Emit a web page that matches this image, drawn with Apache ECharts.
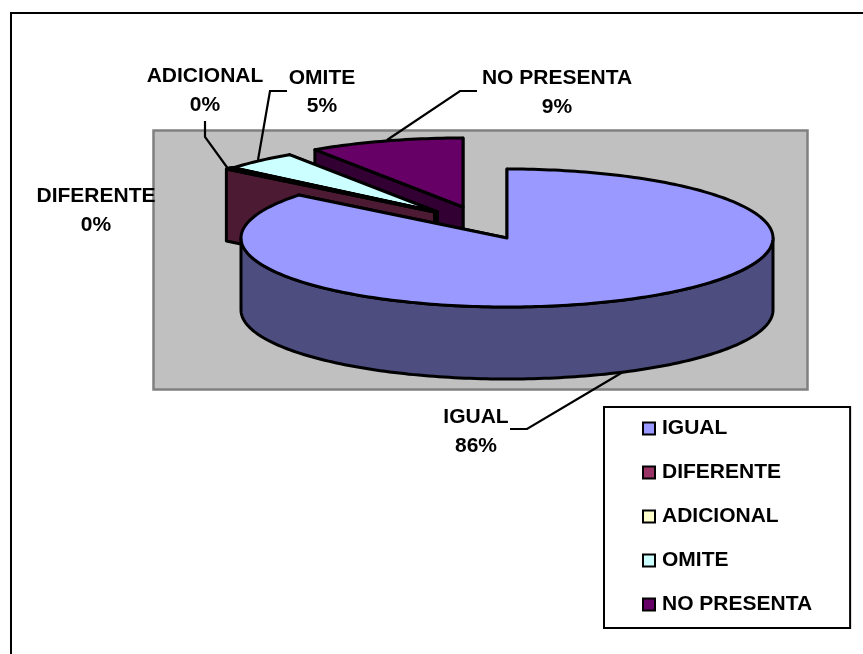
<!DOCTYPE html>
<html>
<head>
<meta charset="utf-8">
<style>html,body{margin:0;padding:0;background:#fff}#chart{width:863px;height:654px}</style>
<script src="https://cdn.jsdelivr.net/npm/echarts@6/dist/echarts.min.js"></script>
</head>
<body>
<div id="chart"></div>
<script>
// Survey answers, as a share of the total
const categories = ['IGUAL', 'DIFERENTE', 'ADICIONAL', 'OMITE', 'NO PRESENTA'];
const shares = [85.7, 0.3, 0.1, 4.5, 9.4];

// Slice colours, top faces and darker side walls
const topColors = ['#9999FF', '#993366', '#FFFFCC', '#CCFFFF', '#660066'];
const wallColors = ['#4D4D80', '#4D1A33', '#808066', '#668080', '#330033'];

// Pie geometry in pixels
const CX = 507, CY = 238, RX = 266, RY = 69, DEPTH = 72;
// Offset of every exploded slice from the pie centre
const explode = [[0, 0], [-72.5, -26], [-71, -26], [-69.5, -26], [-44, -31]];
// Slices are painted from the back of the pie to the front
const paintOrder = [4, 3, 2, 1, 0];

const total = shares.reduce((a, b) => a + b, 0);
const percentText = i => Math.round(Number((shares[i] / total * 100).toFixed(3))) + '%';

// Clockwise angles from twelve o'clock for each slice
const spans = [];
shares.reduce((acc, v, i) => {
  const next = acc + v / total * Math.PI * 2;
  spans[i] = [acc, next];
  return next;
}, 0);

const EDGE = { stroke: '#000', lineWidth: 3, lineJoin: 'round' };

function rim(cx, cy, a) {
  return [cx + RX * Math.sin(a), cy - RY * Math.cos(a)];
}

function arcPoints(cx, cy, a0, a1) {
  const n = Math.max(2, Math.ceil(Math.abs(a1 - a0) / 0.02));
  const pts = [];
  for (let k = 0; k <= n; k++) pts.push(rim(cx, cy, a0 + (a1 - a0) * k / n));
  return pts;
}

function poly(points, fill) {
  return { type: 'polygon', shape: { points }, style: Object.assign({ fill }, EDGE) };
}

function sliceShapes(i) {
  const cx = CX + explode[i][0], cy = CY + explode[i][1];
  const [a0, a1] = spans[i];
  const down = p => [p[0], p[1] + DEPTH];
  const children = [];
  const hub = [cx, cy];

  // Cut faces: the one on the far side first
  [a1, a0].forEach(a => {
    const p = rim(cx, cy, a);
    children.push(poly([hub, p, down(p), down(hub)], wallColors[i]));
  });

  // Curved outer wall, only where it faces the viewer
  const from = Math.max(a0, Math.PI / 2), to = Math.min(a1, Math.PI * 1.5);
  if (to > from) {
    const arc = arcPoints(cx, cy, from, to);
    children.push(poly(arc.concat(arc.map(down).reverse()), wallColors[i]));
  }

  // Top face
  children.push(poly([hub].concat(arcPoints(cx, cy, a0, a1)), topColors[i]));
  return children;
}

const sliceSeries = paintOrder.map(i => ({
  type: 'custom',
  name: categories[i],
  coordinateSystem: 'none',
  silent: true,
  itemStyle: { color: topColors[i] },
  data: [shares[i]],
  renderItem: () => ({ type: 'group', children: sliceShapes(i) })
}));

// Label anchors and leader lines, in category order
const labelCenters = [[476, 431.5], [96, 210.5], [205, 90.5], [322, 92], [557, 92.5]];
const leaders = [
  [[510, 429], [527, 429], [623, 372]],
  [],
  [[205, 121], [205, 137], [229, 170]],
  [[287, 91], [270, 91], [258, 160]],
  [[477, 91], [460, 91], [387, 140]]
];

const FONT = '"Liberation Sans", Arial, sans-serif';
const FONT_SIZE = 21;

const labelSeries = {
  type: 'custom',
  name: 'labels',
  coordinateSystem: 'none',
  silent: true,
  z: 5,
  data: categories.map((c, i) => i),
  renderItem: (params, api) => {
    const i = api.value(0);
    const kids = [{
      type: 'text',
      style: {
        x: labelCenters[i][0], y: labelCenters[i][1],
        text: categories[i] + '\n' + percentText(i),
        font: 'bold ' + FONT_SIZE + 'px ' + FONT, fill: '#000',
        align: 'center', verticalAlign: 'middle', lineHeight: 28.5
      }
    }];
    if (leaders[i].length) {
      kids.push({
        type: 'polyline',
        shape: { points: leaders[i] },
        style: { stroke: '#000', lineWidth: 2.2, fill: null }
      });
    }
    return { type: 'group', children: kids };
  }
};

const chart = echarts.init(document.getElementById('chart'));
chart.setOption({
  animation: false,
  backgroundColor: '#fff',
  graphic: [
    // Chart frame, open to the right and below
    { type: 'polyline', z: -10, shape: { points: [[11, 654], [11, 13], [863, 13]] },
      style: { stroke: '#000', lineWidth: 2, fill: null } },
    // Plot backdrop
    { type: 'rect', z: -10, shape: { x: 153.5, y: 130.5, width: 654, height: 259 },
      style: { fill: '#C0C0C0', stroke: '#808080', lineWidth: 2.5 } }
  ],
  legend: {
    data: categories,
    orient: 'vertical',
    left: 604,
    top: 407,
    padding: [11, 38, 13, 38],
    itemWidth: 12,
    itemHeight: 12,
    itemGap: 23,
    selectedMode: false,
    icon: 'rect',
    borderColor: '#000',
    borderWidth: 2,
    backgroundColor: '#fff',
    itemStyle: { borderColor: '#000', borderWidth: 2 },
    textStyle: { fontFamily: FONT, fontWeight: 'bold', fontSize: FONT_SIZE, color: '#000', padding: [0, 0, 0, 2] }
  },
  series: sliceSeries.concat([labelSeries])
});
</script>
</body>
</html>
